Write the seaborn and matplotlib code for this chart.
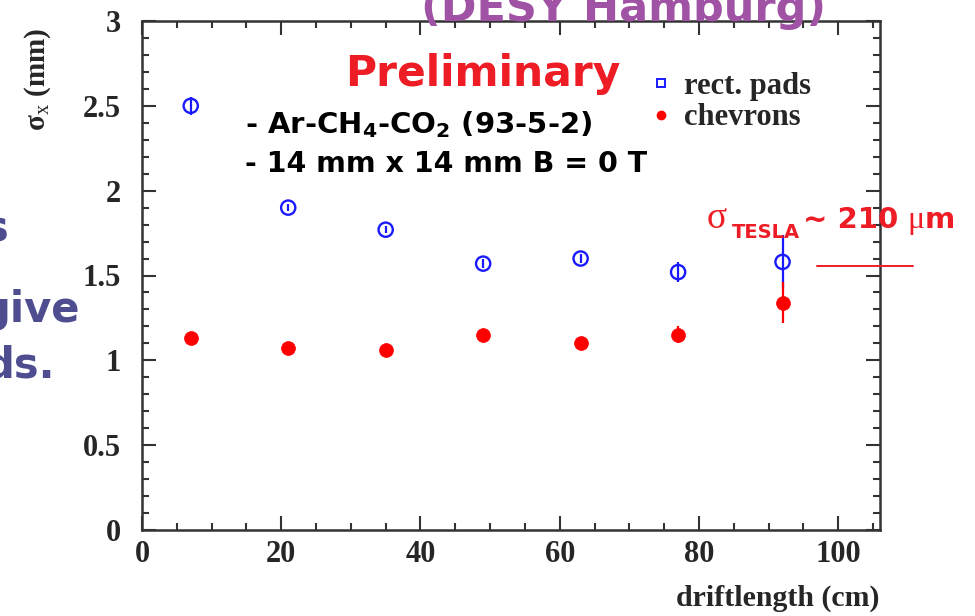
import numpy as np
import pandas as pd
import matplotlib
matplotlib.use("Agg")
import matplotlib.pyplot as plt
import seaborn as sns
from matplotlib.lines import Line2D
from matplotlib.font_manager import FontProperties
from matplotlib.ticker import MultipleLocator

# ---- data ----
drift = [7, 21, 35, 49, 63, 77, 92]
rect_sigma = [2.50, 1.90, 1.77, 1.57, 1.60, 1.52, 1.58]
rect_err = [0.055, 0.02, 0.02, 0.025, 0.025, 0.06, 0.16]
chev_sigma = [1.13, 1.07, 1.06, 1.15, 1.10, 1.15, 1.34]
chev_err = [0.02, 0.02, 0.02, 0.02, 0.02, 0.05, 0.12]
series_labels = ["rect. pads", "chevrons"]
tesla_level = 1.555
x_ticks = [0, 20, 40, 60, 80, 100]
y_ticks = [0, 0.5, 1, 1.5, 2, 2.5, 3]
y_tick_labels = ["0", "0.5", "1", "1.5", "2", "2.5", "3"]

sns.set_style("ticks")
plt.rcParams["font.family"] = ["DejaVu Sans"]
plt.rcParams["mathtext.fontset"] = "custom"
plt.rcParams["mathtext.rm"] = "DejaVu Sans:bold"
plt.rcParams["mathtext.sf"] = "Liberation Serif"

W, H = 975, 616
fig = plt.figure(figsize=(W / 100, H / 100), dpi=100)
fig.patch.set_facecolor("white")


def fx(x):
    return x / W


def fy(y):
    return 1 - y / H


ax = fig.add_axes([fx(142), fy(530), (880 - 142) / W, (530 - 21) / H])
ax.set_facecolor("white")

df = pd.DataFrame({"drift": drift * 2,
                   "sigma": rect_sigma + chev_sigma,
                   "err": rect_err + chev_err,
                   "series": [series_labels[0]] * len(drift) + [series_labels[1]] * len(drift)})
rect = df[df.series == series_labels[0]]
chev = df[df.series == series_labels[1]]

BLUE = "#1a1aff"
RED = "#ff0000"

ax.errorbar(rect.drift, rect.sigma, yerr=rect.err, fmt="none", ecolor=BLUE, elinewidth=1.6, capsize=0, zorder=2)
sns.scatterplot(data=rect, x="drift", y="sigma", marker="o", s=105, facecolors="none",
                edgecolors=BLUE, linewidth=1.7, ax=ax, legend=False, zorder=3)
ax.errorbar(chev.drift, chev.sigma, yerr=chev.err, fmt="none", ecolor=RED, elinewidth=1.6, capsize=0, zorder=4)
sns.scatterplot(data=chev, x="drift", y="sigma", marker="o", s=100, color=RED,
                edgecolor=RED, linewidth=0.5, ax=ax, legend=False, zorder=5)

ax.set_xlim(0, 106)
ax.set_ylim(0, 3)
ax.set_xticks(x_ticks)
ax.set_yticks(y_ticks)
ax.set_yticklabels(y_tick_labels)
ax.xaxis.set_minor_locator(MultipleLocator(5))
ax.yaxis.set_minor_locator(MultipleLocator(0.1))
ax.tick_params(which="both", direction="in", top=True, right=True, color="#333333", width=1.5)
ax.tick_params(which="major", length=10)
ax.tick_params(which="minor", length=5)
ax.tick_params(axis="x", which="major", pad=7)
ax.tick_params(axis="y", which="major", pad=15)
for lab in ax.get_xticklabels() + ax.get_yticklabels():
    lab.set_fontfamily("Liberation Serif")
    lab.set_fontweight("bold")
    lab.set_fontsize(22)
for s in ax.spines.values():
    s.set_color("#333333")
    s.set_linewidth(1.8)
ax.set_xlabel("")
ax.set_ylabel("")

# axis titles
fig.text(fx(880), fy(598), "driftlength (cm)", ha="right", va="center",
         family="Liberation Serif", weight="bold", fontsize=21.5)
fig.text(fx(38), fy(28), r"σ$_\mathsf{x}$ (mm)", rotation=90, ha="center", va="top",
         family="Liberation Serif", weight="bold", fontsize=21)

# legend
handles = [Line2D([], [], marker="s", linestyle="none", markersize=6, markerfacecolor="none",
                  markeredgecolor=BLUE, markeredgewidth=1.4),
           Line2D([], [], marker="o", linestyle="none", markersize=6, markerfacecolor=RED,
                  markeredgecolor=RED)]
ax.legend(handles, series_labels, loc="upper left", bbox_to_anchor=(fx(652), fy(72)),
          bbox_transform=fig.transFigure, frameon=False, handlelength=0.6, handletextpad=0.45,
          borderpad=0, borderaxespad=0, labelspacing=0.08,
          prop=FontProperties(family="Liberation Serif", weight="bold", size=22))

# annotations
TRED = "#ee1c25"
fig.text(fx(345), fy(86), "Preliminary", color=TRED, weight="bold", fontsize=30.5,
         ha="left", va="baseline")
fig.text(fx(245), fy(133), r"- Ar-CH$_4$-CO$_2$ (93-5-2)", color="black", weight="bold",
         fontsize=21, ha="left", va="baseline")
fig.text(fx(245), fy(172), "- 14 mm x 14 mm B = 0 T", color="black", weight="bold",
         fontsize=20.5, ha="left", va="baseline")

# sigma_TESLA annotation
fig.text(fx(707), fy(228), "σ", color=TRED, family="Liberation Serif", fontsize=27,
         ha="left", va="baseline")
fig.text(fx(732), fy(238), "TESLA", color=TRED, weight="bold", fontsize=14,
         ha="left", va="baseline")
fig.text(fx(803), fy(228), "~ 210", color=TRED, weight="bold", fontsize=21,
         ha="left", va="baseline")
fig.text(fx(907), fy(228), "μ", color=TRED, family="Liberation Serif", fontsize=23,
         ha="left", va="baseline")
fig.text(fx(925), fy(228), "m", color=TRED, weight="bold", fontsize=21,
         ha="left", va="baseline")
ax.plot([97, 110.8], [tesla_level, tesla_level], color=TRED, linewidth=1.4, clip_on=False, zorder=6)

# slide background fragments
PURPLE = "#a052a4"
fig.text(fx(421), fy(21), "(DESY Hamburg)", color=PURPLE, weight="bold", fontsize=31,
         ha="left", va="baseline", zorder=10)
SLATE = "#4d4d8f"
fig.text(fx(9), fy(242), "s", color=SLATE, weight="bold", fontsize=30, ha="right", va="baseline")
fig.text(fx(80), fy(322), "give", color=SLATE, weight="bold", fontsize=30, ha="right", va="baseline")
fig.text(fx(55), fy(377), "ds.", color=SLATE, weight="bold", fontsize=30, ha="right", va="baseline")

fig.savefig("out.png", dpi=100, facecolor="white")
